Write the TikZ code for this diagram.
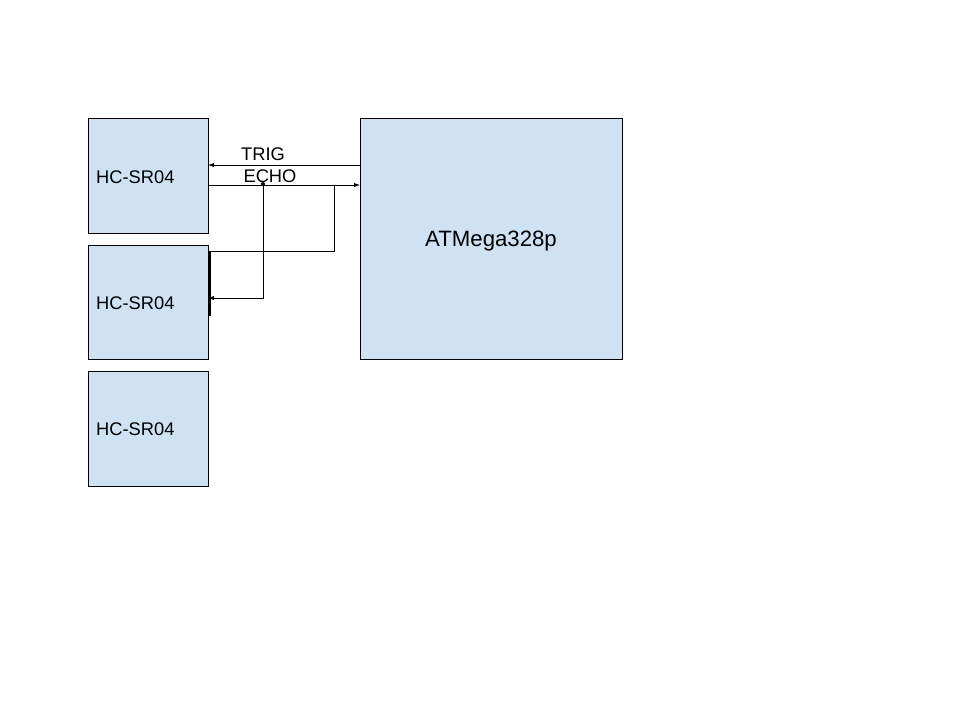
\documentclass[tikz,border=0pt]{standalone}
\usepackage{fontspec}
\setmainfont{Liberation Sans}
\usetikzlibrary{arrows.meta,calc}
\definecolor{boxfill}{HTML}{CFE2F3}
\begin{document}
\begin{tikzpicture}[x=1pt,y=-1pt,
  blk/.style={draw=black,fill=boxfill,line width=0.8pt,inner sep=0pt,outer sep=0pt},
  wire/.style={draw=black,line width=0.9pt},
  arr/.style={wire,-{Latex[length=6pt,width=4.5pt]}},
  lbl/.style={font=\fontsize{18.3}{20}\selectfont,inner sep=0pt},
  big/.style={font=\fontsize{22.2}{24}\selectfont,inner sep=0pt}]
\useasboundingbox[fill=white] (0,0) rectangle (960,720);
\node[blk,minimum width=120pt,minimum height=115pt,anchor=north west] (s1) at (88,118) {};
\node[blk,minimum width=120pt,minimum height=114pt,anchor=north west] (s2) at (88,245) {};
\node[blk,minimum width=120pt,minimum height=115pt,anchor=north west] (s3) at (88,371) {};
\node[blk,minimum width=262pt,minimum height=241pt,anchor=north west] (mcu) at (360,118) {};
\node[lbl,anchor=west] (t1) at (96,177) {HC-SR04};
\node[lbl,anchor=west] (t2) at (96,303) {HC-SR04};
\node[lbl,anchor=west] (t3) at (96,429) {HC-SR04};
\node[big] (tm) at (491,241) {ATMega328p};
\node[lbl] (trig) at (263,154) {TRIG};
\node[lbl] (echo) at (270,176) {ECHO};
\coordinate (b1) at (334,185);
\coordinate (b2) at (263,185);
\coordinate (v1) at (209.5,251);
\coordinate (v2) at (209.5,316);
\draw[arr] (mcu.west |- 0,165) -- (s1.east |- 0,165);
\draw[arr] (s1.east |- 0,185) -- (mcu.west |- 0,185);
\draw[wire] (b1) |- (s2.east |- 0,251);
\draw[line width=2.4pt] (v1) -- (v2);
\draw[arr] (b2) |- (s2.east |- 0,298);
\fill (b2) ++(0,-1) circle (2pt);
\end{tikzpicture}
\end{document}
